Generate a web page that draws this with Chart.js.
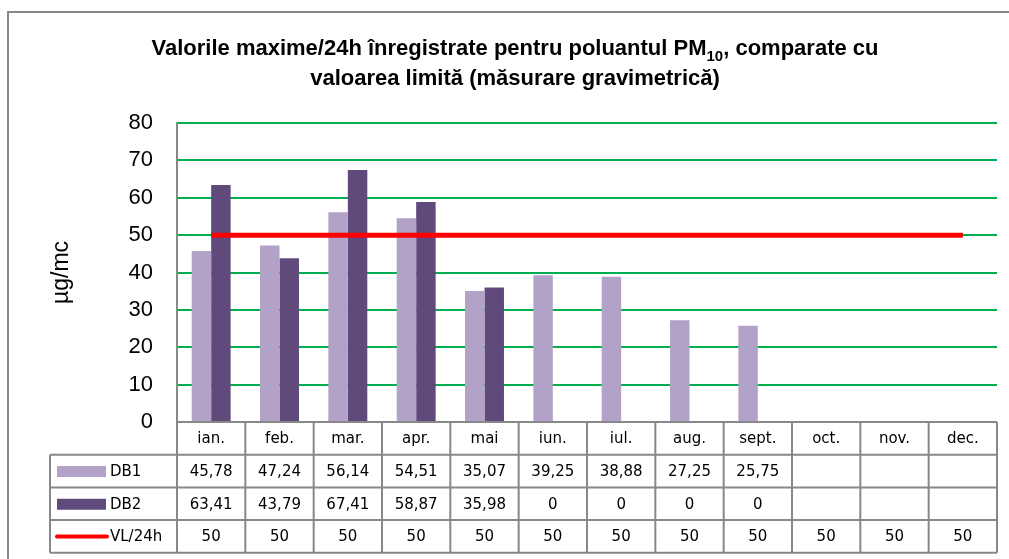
<!DOCTYPE html>
<html>
<head>
<meta charset="utf-8">
<script src="https://cdn.jsdelivr.net/npm/chart.js@4.4.1/dist/chart.umd.min.js"></script>
<style>
    html, body { margin: 0; padding: 0; background: #fff; }
    #wrap { width: 1009px; height: 559px; position: relative; }
</style>
</head>
<body>
<div id="wrap"><canvas id="pmChart"></canvas></div>
<script>
const months = ['ian.', 'feb.', 'mar.', 'apr.', 'mai', 'iun.', 'iul.', 'aug.', 'sept.', 'oct.', 'nov.', 'dec.'];
const db1 = [45.78, 47.24, 56.14, 54.51, 35.07, 39.25, 38.88, 27.25, 25.75, null, null, null];
const db2 = [63.41, 43.79, 67.41, 58.87, 35.98, 0, 0, 0, 0, null, null, null];
const vl24 = [50, 50, 50, 50, 50, 50, 50, 50, 50, 50, 50, 50];
const yTicks = [0, 10, 20, 30, 40, 50, 60, 70, 80];

const colDB1 = '#B3A2C7';
const colDB2 = '#604A7B';
const colVL = '#FF0000';
const gridGreen = '#00B050';
const lineGray = '#888888';

// valori afisate in tabel: zecimale cu virgula
function fmt(v) {
    if (v === null || v === undefined) return '';
    return Number.isInteger(v) ? String(v) : v.toFixed(2).replace('.', ',');
}

const framePlugin = {
    id: 'frame',
    beforeDraw(chart) {
        const ctx = chart.ctx;
        ctx.save();
        ctx.fillStyle = '#fff';
        ctx.fillRect(0, 0, chart.width, chart.height);
        ctx.strokeStyle = lineGray;
        ctx.lineWidth = 2;
        ctx.strokeRect(8, 12, 1200, 700);
        ctx.restore();
    }
};

// titlu cu indice (PM10)
const titlePlugin = {
    id: 'subTitle',
    afterDraw(chart) {
        const ctx = chart.ctx;
        const big = 'bold 22px "Liberation Sans", Arial, sans-serif';
        const small = 'bold 15px "Liberation Sans", Arial, sans-serif';
        const a = 'Valorile maxime/24h înregistrate pentru poluantul PM';
        const sub = '10';
        const b = ', comparate cu';
        const cx = 515;
        ctx.save();
        ctx.fillStyle = '#000';
        ctx.textBaseline = 'alphabetic';
        ctx.textAlign = 'left';
        ctx.font = big;
        const wa = ctx.measureText(a).width, wb = ctx.measureText(b).width;
        ctx.font = small;
        const ws = ctx.measureText(sub).width;
        let x = cx - (wa + ws + wb) / 2;
        ctx.font = big;
        ctx.fillText(a, x, 55);
        x += wa;
        ctx.font = small;
        ctx.fillText(sub, x, 61);
        x += ws;
        ctx.font = big;
        ctx.fillText(b, x, 55);
        ctx.textAlign = 'center';
        ctx.fillText('valoarea limită (măsurare gravimetrică)', cx, 85);
        ctx.restore();
    }
};

// tabelul de date sub grafic
const tablePlugin = {
    id: 'dataTable',
    afterDraw(chart) {
        const ctx = chart.ctx;
        const xs = chart.scales.x;
        const area = chart.chartArea;
        const n = months.length;
        const colW = (area.right - area.left) / n;
        const top = area.bottom;
        const rowH = 32.7;
        const leftCol = 50;
        const rows = [
            { label: 'DB1', data: db1, kind: 'bar', color: colDB1 },
            { label: 'DB2', data: db2, kind: 'bar', color: colDB2 },
            { label: 'VL/24h', data: vl24, kind: 'line', color: colVL }
        ];

        ctx.save();
        ctx.strokeStyle = lineGray;
        ctx.lineWidth = 2;
        ctx.beginPath();
        // linii orizontale
        ctx.moveTo(area.left, top);
        ctx.lineTo(area.right, top);
        for (let r = 1; r <= 4; r++) {
            ctx.moveTo(leftCol, top + r * rowH);
            ctx.lineTo(area.right, top + r * rowH);
        }
        // linii verticale
        ctx.moveTo(leftCol, top + rowH);
        ctx.lineTo(leftCol, top + 4 * rowH);
        for (let i = 0; i <= n; i++) {
            const x = area.left + i * colW;
            ctx.moveTo(x, top);
            ctx.lineTo(x, top + 4 * rowH);
        }
        ctx.stroke();

        ctx.fillStyle = '#000';
        ctx.font = '15px "DejaVu Sans", Verdana, sans-serif';
        ctx.textAlign = 'center';
        ctx.textBaseline = 'middle';
        months.forEach((m, i) => {
            ctx.fillText(m, xs.getPixelForValue(i), top + rowH / 2 + 1);
        });

        rows.forEach((row, r) => {
            const cy = top + (r + 1.5) * rowH;
            if (row.kind === 'bar') {
                ctx.fillStyle = row.color;
                ctx.fillRect(57, cy - 5, 49, 11);
            } else {
                ctx.strokeStyle = row.color;
                ctx.lineWidth = 4;
                ctx.lineCap = 'round';
                ctx.beginPath();
                ctx.moveTo(57, cy);
                ctx.lineTo(107, cy);
                ctx.stroke();
            }
            ctx.fillStyle = '#000';
            ctx.textAlign = 'left';
            ctx.fillText(row.label, 110, cy + 1);
            ctx.textAlign = 'center';
            row.data.forEach((v, i) => {
                ctx.fillText(fmt(v), xs.getPixelForValue(i), cy + 1);
            });
        });
        ctx.restore();
    }
};

window.onload = function () {
    const ctx = document.getElementById('pmChart').getContext('2d');

    new Chart(ctx, {
        data: {
            labels: months,
            datasets: [
                {
                    type: 'line',
                    label: 'VL/24h',
                    data: vl24,
                    borderColor: colVL,
                    backgroundColor: colVL,
                    borderWidth: 5,
                    pointRadius: 0,
                    order: 0
                },
                {
                    type: 'bar',
                    label: 'DB1',
                    data: db1,
                    backgroundColor: colDB1,
                    barPercentage: 1,
                    categoryPercentage: 0.57,
                    order: 1
                },
                {
                    type: 'bar',
                    label: 'DB2',
                    data: db2,
                    backgroundColor: colDB2,
                    barPercentage: 1,
                    categoryPercentage: 0.57,
                    order: 1
                }
            ]
        },
        plugins: [framePlugin, tablePlugin, titlePlugin],
        options: {
            responsive: true,
            maintainAspectRatio: false,
            animation: false,
            layout: {
                padding: { left: 0, top: 123, right: 12, bottom: 137 }
            },
            plugins: {
                legend: { display: false },
                title: { display: false },
                tooltip: { enabled: false }
            },
            scales: {
                x: {
                    display: false,
                    offset: true
                },
                y: {
                    min: 0,
                    max: 80,
                    afterFit(scale) { scale.width = 177; },
                    afterBuildTicks(scale) {
                        scale.ticks = yTicks.map(v => ({ value: v }));
                    },
                    border: { display: true, color: lineGray, width: 2 },
                    grid: {
                        color: gridGreen,
                        lineWidth: 2,
                        drawTicks: false,
                        tickLength: 0
                    },
                    ticks: {
                        color: '#000',
                        padding: 24,
                        font: { family: '"Liberation Sans", Arial, sans-serif', size: 22 }
                    },
                    title: {
                        display: true,
                        text: 'µg/mc',
                        color: '#000',
                        padding: { top: 48, bottom: 0 },
                        font: { family: '"Liberation Sans", Arial, sans-serif', size: 23 }
                    }
                }
            }
        }
    });
};
</script>
</body>
</html>
